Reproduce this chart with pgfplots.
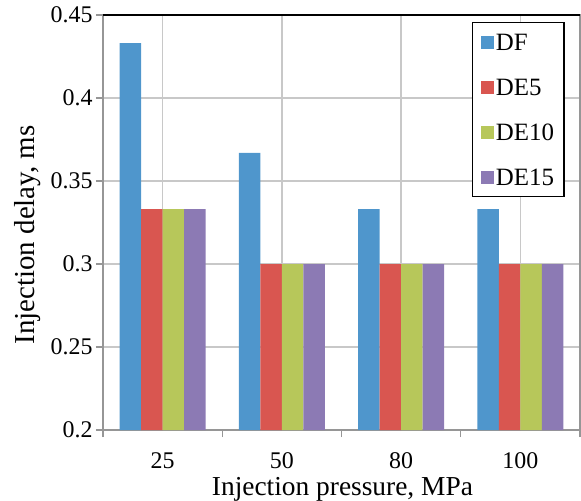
\documentclass[border=0pt]{standalone}
\usepackage{pgfplots}
\pgfplotsset{compat=1.18}
\usepackage{fontspec}
\setmainfont{Liberation Serif}

\definecolor{cDF}{RGB}{79,150,204}
\definecolor{cDEfive}{RGB}{217,86,80}
\definecolor{cDEten}{RGB}{183,199,90}
\definecolor{cDEfifteen}{RGB}{140,122,180}
\definecolor{gridgray}{RGB}{200,200,200}
\definecolor{axgray}{RGB}{150,150,150}

\begin{document}
\begin{tikzpicture}
\begin{axis}[
  name=ax,
  scale only axis,
  width=477bp, height=415bp,
  ybar=0pt, bar width=0.18,
  xmin=-0.5, xmax=3.5,
  ymin=0.2, ymax=0.45,
  xtick={-0.5,0.5,1.5,2.5,3.5},
  xticklabels={},
  extra x ticks={0,1,2,3},
  extra x tick labels={25,50,80,100},
  extra x tick style={grid=major, tick style={draw=none}},
  ytick={0.2,0.25,0.3,0.35,0.4,0.45},
  yticklabels={0.2,0.25,0.3,0.35,0.4,0.45},
  ymajorgrids=true,
  grid style={gridgray, line width=1.3bp},
  axis line style={axgray, line width=1.3bp},
  tick style={axgray, line width=1.3bp},
  tick align=outside,
  major tick length=7bp,
  xtick pos=bottom, ytick pos=left,
  ticklabel style={font=\rmfamily\fontsize{24}{24}\selectfont, text=black},
  xticklabel style={anchor=base, yshift=-31bp},
  yticklabel style={anchor=east},
  xlabel={Injection pressure, MPa},
  ylabel={Injection delay, ms},
  label style={font=\rmfamily\fontsize{27.5}{27.5}\selectfont},
  xlabel style={at={(axis description cs:0.502,-0.157)}, anchor=base},
  ylabel style={at={(axis description cs:-0.143,0.47)}, anchor=base, font=\rmfamily\fontsize{29}{29}\selectfont},
  legend style={
    at={(0.774,0.983)}, anchor=north west,
    draw=black, line width=1.3bp,
    font=\rmfamily\fontsize{25}{25}\selectfont,
    inner xsep=8bp, inner ysep=9bp,
    row sep=24bp,
    nodes={inner sep=2bp, text height=17bp, text depth=0bp},
  },
  legend cell align=left,
  legend image code/.code={\fill[#1,draw=none] (0bp,-6.5bp) rectangle (13bp,6.5bp);},
]
\addplot[fill=cDF, draw=none] coordinates {(0,0.433) (1,0.367) (2,0.333) (3,0.333)};
\addlegendentry{DF}
\addplot[fill=cDEfive, draw=none] coordinates {(0,0.333) (1,0.3) (2,0.3) (3,0.3)};
\addlegendentry{DE5}
\addplot[fill=cDEten, draw=none] coordinates {(0,0.333) (1,0.3) (2,0.3) (3,0.3)};
\addlegendentry{DE10}
\addplot[fill=cDEfifteen, draw=none] coordinates {(0,0.333) (1,0.3) (2,0.3) (3,0.3)};
\addlegendentry{DE15}
\draw[black, line width=1.5bp] (rel axis cs:0,1) -- (rel axis cs:1,1);
\end{axis}
\pgfresetboundingbox
\path[use as bounding box] ([xshift=-103bp,yshift=-71bp]ax.south west) rectangle ([xshift=1bp,yshift=15bp]ax.north east);
\end{tikzpicture}
\end{document}
